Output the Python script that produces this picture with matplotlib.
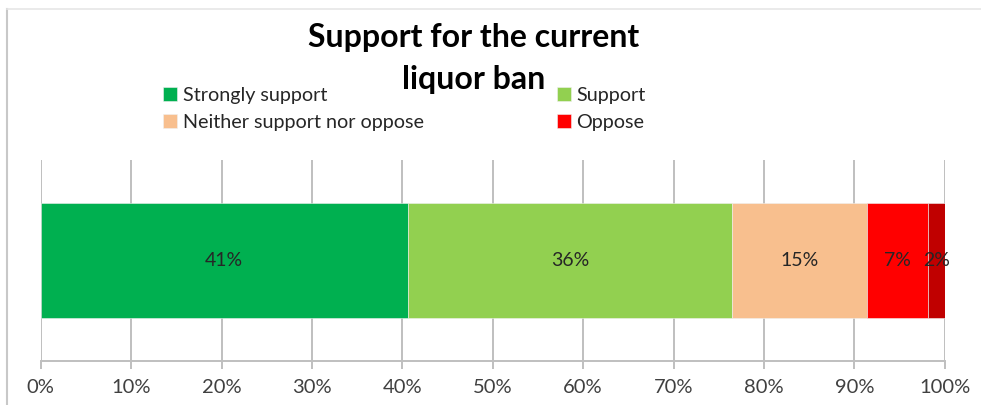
import numpy as np
import matplotlib.pyplot as plt

# ================= DATA =================
categories = ["Strongly support", "Support", "Neither support nor oppose",
              "Oppose", "Strongly oppose"]
shares = [40.6, 35.9, 14.9, 6.7, 1.9]
colors = ["#00B050", "#92D050", "#F8BF8E", "#FF0000", "#C00000"]
tick_vals = list(range(0, 101, 10))
tick_labels = [f"{v}%" for v in tick_vals]
title_lines = ["Support for the current", "liquor ban"]

plt.rcParams['font.family'] = ['Lato', 'DejaVu Sans']

# ================= FIGURE =================
fig = plt.figure(figsize=(9.81, 4.05), dpi=100)
ax = fig.add_axes([40.7 / 981, 1 - 361 / 405, 904 / 981, 201 / 405])

left = 0.0
bars = []
for name, val, col in zip(categories, shares, colors):
    b = ax.barh(0, val, left=left, height=0.572, color=col,
                edgecolor="#f0f0f0", linewidth=0.4, label=name, zorder=3)
    bars.append(b)
    ax.text(left + val / 2, 0, f"{val:.0f}%", ha="center", va="center",
            fontsize=14, color="#262626", zorder=4)
    left += val

ax.set_xlim(0, 100)
ax.set_ylim(-0.5, 0.5)
ax.set_xticks(tick_vals)
ax.set_xticklabels(tick_labels, fontsize=14.5, color="#404040")
ax.set_yticks([])
ax.xaxis.grid(True, color="#bfbfbf", linewidth=1.4, zorder=0)
ax.tick_params(axis="x", length=6, width=1.4, color="#bfbfbf", pad=7)
for s in ["top", "right", "left"]:
    ax.spines[s].set_visible(False)
ax.spines["bottom"].set_color("#bfbfbf")
ax.spines["bottom"].set_linewidth(1.4)

# title, one text per line so each keeps its own tight box
for line, base_px in zip(title_lines, [47, 89]):
    fig.text(474 / 981, 1 - base_px / 405, line, ha="center", va="baseline",
             fontsize=23, fontweight="bold", color="black")

# legend: first four entries, laid out row by row
order = [0, 2, 1, 3]
handles = [bars[i][0] for i in order]
labels = [categories[i] for i in order]
leg = fig.legend(handles, labels, ncol=2, loc="upper left",
                 bbox_to_anchor=(163 / 981, 1 - 87 / 405), frameon=False,
                 fontsize=14.2, handlelength=0.7, handleheight=0.7,
                 handletextpad=0.3, columnspacing=6.75, labelspacing=0.5,
                 borderaxespad=0, borderpad=0)
for t in leg.get_texts():
    t.set_color("#262626")

# outer frame lines
fig.add_artist(plt.Line2D([7 / 981, 7 / 981], [0, 1 - 9 / 405],
                          transform=fig.transFigure, color="#c8c8c8", lw=1.5))
fig.add_artist(plt.Line2D([7 / 981, 1], [1 - 9 / 405, 1 - 9 / 405],
                          transform=fig.transFigure, color="#e6e6e6", lw=1.2))

fig.savefig("out.png", dpi=100)
plt.close(fig)
